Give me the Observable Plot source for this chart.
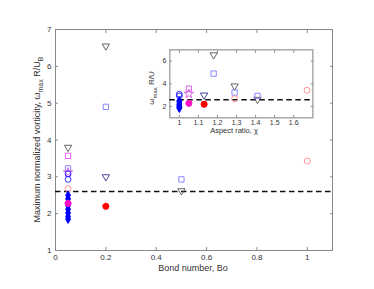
<!DOCTYPE html>
<html><head><meta charset="utf-8">
<script src="https://cdn.jsdelivr.net/npm/d3@7"></script>
<script src="https://cdn.jsdelivr.net/npm/@observablehq/plot@0.6"></script>
<style>
body{margin:0;background:#fff;}
#wrap{position:relative;width:374px;height:289px;overflow:hidden;}
#inset{position:absolute;left:140px;top:40px;}
svg text{font-family:"Liberation Sans",Arial,sans-serif;}
</style>
</head><body><div id="wrap"><div id="main"></div><div id="inset"></div></div>
<script>
// ---- data ----
const seriesNames = ["triGray","sqLight","sqMag","starMag","circBlue","circSalmon","diaBlue","dotMag","triNavy","dotRed"];
const series    = ["triGray","triGray","triGray","sqLight","sqLight","sqLight","sqMag","starMag","circBlue","circBlue","circSalmon","circSalmon",
                   "diaBlue","diaBlue","diaBlue","diaBlue","diaBlue","diaBlue","diaBlue","dotMag","triNavy","dotRed"];
const bondNumber = [0.05,0.2,0.5, 0.05,0.2,0.5, 0.05, 0.05, 0.05,0.05, 0.05,1.0,
                    0.05,0.05,0.05,0.05,0.05,0.05,0.05, 0.05, 0.2, 0.2];
const aspectRatio = [1.29,1.18,1.41, 1.29,1.18,1.41, 1.05, 1.05, 1.0,1.0, 1.29,1.67,
                     1.0,1.0,1.0,1.0,1.0,1.0,1.0, 1.05, 1.13, 1.13];
const vorticity = [3.80,6.55,2.62, 3.23,4.90,2.93, 3.57, 3.12, 3.08,2.93, 2.68,3.43,
                   2.50,2.40,2.22,2.12,2.02,1.92,1.85, 2.28, 3.00, 2.20];
const threshold = [2.6];
const bondTicks = [0,0.2,0.4,0.6,0.8,1];
const vortTicks = [1,2,3,4,5,6,7];
const aspectTicks = [1,1.1,1.2,1.3,1.4,1.5,1.6];
const insetVortTicks = [2,4,6];

const rows = series.map((s,i)=>({s, bo:bondNumber[i], chi:aspectRatio[i], w:vorticity[i]}));

// marker styles per series
const styles = {
  triGray:   {symbol:"triangle", rotate:180, stroke:"#555", fill:"none", r:2.7},
  sqLight:   {symbol:"square", stroke:"#7b7bff", fill:"none", r:3.0},
  sqMag:     {symbol:"square", stroke:"#d84ee8", fill:"none", r:3.0},
  starMag:   {symbol:"star", stroke:"#d84ee8", fill:"none", r:2.9},
  circBlue:  {symbol:"circle", stroke:"#1a1aff", fill:"none", r:2.9},
  circSalmon:{symbol:"circle", stroke:"#ff8a8a", fill:"none", r:3.0},
  diaBlue:   {symbol:"diamond", stroke:"#0000ff", fill:"#0000ff", r:2.6},
  dotMag:    {symbol:"circle", stroke:"#ff10c8", fill:"#ff10c8", r:3.1},
  triNavy:   {symbol:"triangle", rotate:180, stroke:"#33338a", fill:"none", r:2.7},
  dotRed:    {symbol:"circle", stroke:"#ff0000", fill:"#ff0000", r:3.1}
};

function dotMarks(xKey, k){
  return seriesNames.map(name=>{
    const st = styles[name];
    return Plot.dot(rows.filter(d=>d.s===name), {
      x:xKey, y:"w", symbol:()=>st.symbol, r:st.r*k, rotate:st.rotate||0,
      stroke:st.stroke, fill:st.fill, strokeWidth:0.9
    });
  });
}

const axisGray = "#8a8a8a";
const txt = "#333";

// ---- main plot ----
const main = Plot.plot({
  width:374, height:289,
  marginLeft:55, marginRight:42, marginTop:29, marginBottom:39,
  x:{domain:[0,1.1], axis:null},
  y:{domain:[1,7], axis:null},
  symbol:{type:"identity"},
  style:{fontSize:"8px", color:txt, background:"#fff"},
  marks:[
    Plot.frame({stroke:axisGray}),
    Plot.axisX({anchor:"bottom", ticks:bondTicks, tickSize:-3, tickPadding:7, tickFormat:d=>String(d), label:null, stroke:axisGray, fill:txt}),
    Plot.axisX({anchor:"top", ticks:bondTicks, tickSize:-3, tickFormat:()=>"", label:null, stroke:axisGray}),
    Plot.axisY({anchor:"left", ticks:vortTicks, tickSize:-3, tickPadding:7, tickFormat:d=>String(d), label:null, stroke:axisGray, fill:txt}),
    Plot.axisY({anchor:"right", ticks:vortTicks, tickSize:-3, tickFormat:()=>"", label:null, stroke:axisGray}),
    Plot.ruleY(threshold, {stroke:"#111", strokeWidth:1.5, strokeDasharray:"5.5,3.5"}),
    ...dotMarks("bo", 1)
  ]
});
document.getElementById("main").appendChild(main);

const ms = d3.select(main);
ms.append("text").attr("x",193).attr("y",271).attr("text-anchor","middle")
  .attr("font-size",9).attr("fill",txt).text("Bond number, Bo");
const yl = ms.append("text").attr("transform","translate(40,139.5) rotate(-90)")
  .attr("text-anchor","middle").attr("font-size",9).attr("fill",txt);
yl.append("tspan").text("Maximum normalized vorticity, ω");
yl.append("tspan").attr("dy",2.5).attr("font-size",7).text("max");
yl.append("tspan").attr("dy",-2.5).text(" R/U");
yl.append("tspan").attr("dy",2.5).attr("font-size",7).text("B");

// ---- inset ----
const inset = Plot.plot({
  width:180, height:100,
  marginLeft:29.3, marginRight:7.7, marginTop:9.3, marginBottom:22.7,
  x:{domain:[0.95,1.7], axis:null},
  y:{domain:[1,7], axis:null},
  symbol:{type:"identity"},
  style:{fontSize:"7px", color:txt, background:"transparent", overflow:"visible"},
  marks:[
    Plot.frame({fill:"#fff", stroke:"#aaa", strokeWidth:1.5}),
    Plot.axisX({anchor:"bottom", ticks:aspectTicks, tickSize:-2.5, tickPadding:4.5, tickFormat:d=>String(d), label:null, stroke:axisGray, fill:txt}),
    Plot.axisX({anchor:"top", ticks:aspectTicks, tickSize:-2.5, tickFormat:()=>"", label:null, stroke:axisGray}),
    Plot.axisY({anchor:"left", ticks:insetVortTicks, tickSize:-2.5, tickPadding:6, tickFormat:d=>String(d), label:null, stroke:axisGray, fill:txt}),
    Plot.axisY({anchor:"right", ticks:insetVortTicks, tickSize:-2.5, tickFormat:()=>"", label:null, stroke:axisGray}),
    Plot.ruleY(threshold, {stroke:"#111", strokeWidth:1.5, strokeDasharray:"5.5,3.5"}),
    ...dotMarks("chi", 1)
  ]
});
document.getElementById("inset").appendChild(inset);
const is = d3.select(inset);
is.append("text").attr("x",94).attr("y",93).attr("text-anchor","middle")
  .attr("font-size",7.5).attr("fill",txt).text("Aspect ratio, χ");
const il = is.append("text").attr("transform","translate(14,48) rotate(-90)")
  .attr("text-anchor","middle").attr("font-size",8).attr("fill",txt);
il.append("tspan").text("ω");
il.append("tspan").attr("dy",2.5).attr("font-size",6).text("max");
il.append("tspan").attr("dy",-2.5).text(" R/U");
</script>
</body></html>
